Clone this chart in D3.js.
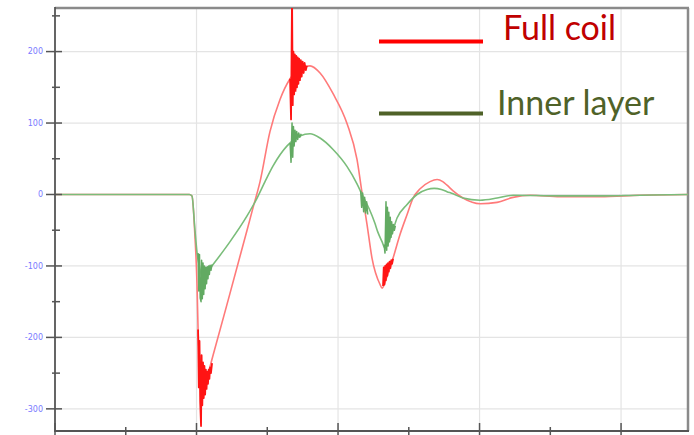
<!DOCTYPE html>
<html><head><meta charset="utf-8">
<script src="https://cdn.jsdelivr.net/npm/d3@7"></script>
<style>body{margin:0;background:#fff}svg{display:block}</style>
</head><body>
<svg id="c" width="694" height="435"></svg>
<script>
// ---- data (time units: 100 per major grid division) ----
const seriesNames = ["Full coil", "Inner layer"];
const fullCoil = [[0,0],[50,0],[95,0],[96.8,-2],[98.9,-59],[100.4,-129],[101.1,-189],[102.5,-235],[104.6,-268],[107,-258],[111.7,-225],[123.7,-138],[135.7,-50],[140,-18],[144.9,18],[151.9,88],[159,133],[166.1,162],[173.1,177],[180.2,180],[187.3,170],[196.5,141],[206.4,99],[213.4,49],[217,2],[220.5,-42],[224,-89],[229.7,-126],[231.1,-131],[234.6,-115],[238.9,-89],[243.8,-56],[248.8,-28],[253,-5],[258,8],[265,18],[270,21],[274,18],[277,13],[281.3,5],[288.3,-5],[300.4,-13],[312.4,-11],[323.7,-4],[335.7,-1],[356.9,-3],[385.2,-3],[413.4,-1],[447.3,0]];
const innerLayer = [[0,0],[50,0],[95,0],[96.8,-2],[98.9,-50],[100.4,-82],[102,-100],[104.6,-119],[107,-110],[111.7,-98],[123.7,-66],[135.7,-30],[142.8,-5],[148.4,18],[154.1,40],[164,68],[173.1,82],[180.2,85],[187.3,79],[196.5,63],[206.4,39],[213.4,15],[217.7,-3],[222,-20],[226,-40],[228,-52],[231.1,-66],[233.2,-75],[238,-55],[241.7,-33],[248.8,-14],[255.8,0],[262.9,7],[268,8.5],[273,7],[277,4],[281.3,1],[288.3,-5],[300.4,-8],[312.4,-5],[323.7,-1],[356.9,-2],[385.2,-2],[413.4,-1],[447.3,0]];
// oscillation bursts
const fullCoilBursts = [
  [[101.1,-189],[101.6,-270],[102.1,-205],[102.6,-290],[103.2,-324],[103.6,-225],[104.1,-295],[104.6,-235],[105.1,-285],[105.6,-240],[106.1,-280],[106.6,-245],[107.1,-272],[107.6,-248],[108.1,-265],[108.6,-245],[109.1,-258],[109.6,-242],[110.2,-250],[111,-236]],
  [[166.1,162],[166.8,105],[167.5,280],[168.0,125],[168.5,200],[169.0,140],[169.5,196],[170.0,145],[170.5,194],[171.0,150],[171.5,192],[172.0,155],[172.5,190],[173.1,160],[173.7,188],[174.3,165],[175,186],[175.7,170],[176.4,184],[177.2,174],[178,180]],
  [[231.8,-128],[232.3,-102],[232.8,-126],[233.3,-100],[233.8,-120],[234.3,-98],[234.8,-114],[235.3,-96],[235.8,-108],[236.4,-94],[237,-103],[237.6,-92],[238.2,-97],[238.9,-90]]
];
const innerLayerBursts = [
  [[101.1,-82],[101.6,-135],[102.1,-84],[102.6,-145],[103.2,-150],[103.6,-92],[104.1,-146],[104.6,-96],[105.1,-140],[105.6,-100],[106.1,-132],[106.6,-102],[107.1,-125],[107.6,-101],[108.1,-118],[108.6,-100],[109.1,-112],[109.6,-99],[110.2,-106],[111,-98]],
  [[166.1,72],[166.8,45],[167.5,100],[168.0,52],[168.5,95],[169.0,68],[169.6,90],[170.2,74],[170.8,88],[171.5,77],[172.2,86],[173,80],[174,85]],
  [[216,5],[216.7,-18],[217.4,2],[218.1,-24],[218.8,-4],[219.5,-26],[220.2,-10],[221,-28]],
  [[232.5,-70],[233.2,-82],[233.9,-10],[234.4,-78],[234.9,-18],[235.4,-72],[235.9,-25],[236.4,-66],[236.9,-32],[237.4,-60],[237.9,-38],[238.5,-55],[239.1,-42],[239.8,-50],[240.5,-44]]
];
const yMajorTicks = [-300,-200,-100,0,100,200];
const yMinorTicks = [-250,-150,-50,50,150,250];
const xMajorTicks = [0,100,200,300,400];
const xMinorTicks = [50,150,250,350];

// ---- layout ----
const svg = d3.select("#c");
const L = 55, R = 688, T = 8, B = 431;
const x = d3.scaleLinear().domain([0, 447.3]).range([L, R]);
const y = d3.scaleLinear().domain([-331, 261]).range([B, T]);

svg.append("defs").append("clipPath").attr("id","clip")
  .append("rect").attr("x",L).attr("y",T).attr("width",R-L).attr("height",B-T);

// grid
const g = svg.append("g");
g.selectAll(".hg").data(yMajorTicks).join("line")
  .attr("x1",L).attr("x2",R).attr("y1",d=>y(d)).attr("y2",d=>y(d))
  .attr("stroke","#e4e4e4").attr("stroke-width",1.2);
g.selectAll(".vg").data(xMajorTicks.slice(1)).join("line")
  .attr("x1",d=>x(d)).attr("x2",d=>x(d)).attr("y1",T).attr("y2",B)
  .attr("stroke","#e4e4e4").attr("stroke-width",1.2);

// frame
svg.append("line").attr("x1",L).attr("x2",R+1).attr("y1",T).attr("y2",T).attr("stroke","#8a8a8a").attr("stroke-width",2.5);
svg.append("line").attr("x1",R).attr("x2",R).attr("y1",T).attr("y2",B).attr("stroke","#8a8a8a").attr("stroke-width",2.5);

// series
const smooth = d3.line().x(d=>x(d[0])).y(d=>y(d[1])).curve(d3.curveMonotoneX);
const line = d3.line().x(d=>x(d[0])).y(d=>y(d[1]));
const plot = svg.append("g").attr("clip-path","url(#clip)");
plot.append("path").datum(fullCoil).attr("d",smooth).attr("fill","none")
  .attr("stroke","#ff7a7a").attr("stroke-width",1.6).attr("stroke-linejoin","round");
plot.selectAll(".fb").data(fullCoilBursts).join("path").attr("d",line).attr("fill","none")
  .attr("stroke","#ff1414").attr("stroke-width",1.8).attr("stroke-linejoin","round");
plot.append("path").datum(innerLayer).attr("d",smooth).attr("fill","none")
  .attr("stroke","#7abd7a").attr("stroke-width",1.6).attr("stroke-linejoin","round");
plot.selectAll(".gb").data(innerLayerBursts).join("path").attr("d",line).attr("fill","none")
  .attr("stroke","#62aa62").attr("stroke-width",1.5).attr("stroke-linejoin","round");

// axes
const ax = svg.append("g");
ax.append("line").attr("x1",L).attr("x2",L).attr("y1",T-1).attr("y2",B+1).attr("stroke","#555").attr("stroke-width",1.8);
ax.append("line").attr("x1",L).attr("x2",R+1).attr("y1",B).attr("y2",B).attr("stroke","#555").attr("stroke-width",1.8);
ax.selectAll(".ymj").data(yMajorTicks).join("line")
  .attr("x1",L-9).attr("x2",L+7).attr("y1",d=>y(d)).attr("y2",d=>y(d)).attr("stroke","#555").attr("stroke-width",1.5);
ax.selectAll(".ymn").data(yMinorTicks).join("line")
  .attr("x1",L-3).attr("x2",L+5).attr("y1",d=>y(d)).attr("y2",d=>y(d)).attr("stroke","#555").attr("stroke-width",1.5);
ax.selectAll(".xmj").data(xMajorTicks).join("line")
  .attr("x1",d=>x(d)).attr("x2",d=>x(d)).attr("y1",B-8).attr("y2",B+5).attr("stroke","#555").attr("stroke-width",1.5);
ax.selectAll(".xmn").data(xMinorTicks).join("line")
  .attr("x1",d=>x(d)).attr("x2",d=>x(d)).attr("y1",B-4).attr("y2",B+4).attr("stroke","#555").attr("stroke-width",1.5);
ax.selectAll(".yl").data(yMajorTicks).join("text")
  .attr("x",L-12).attr("y",d=>y(d)).attr("dy","0.35em").attr("text-anchor","end")
  .attr("font-family","DejaVu Sans, sans-serif").attr("font-size",8).attr("fill","#7a7aff")
  .text(d=>d);

// legend
const leg = svg.append("g");
const legColors = ["#ff0000","#4f6228"];
const legText = ["#c00000","#4f6228"];
const legY = [41.5, 113.5];
const legTX = [503, 497];
const legTY = [40, 115];
seriesNames.forEach((n,i)=>{
  leg.append("line").attr("x1",379).attr("x2",483).attr("y1",legY[i]).attr("y2",legY[i])
    .attr("stroke",legColors[i]).attr("stroke-width",4);
  leg.append("text").attr("x",legTX[i]).attr("y",legTY[i]).attr("font-family","Lato, sans-serif")
    .attr("font-size",34).attr("fill",legText[i]).text(n);
});
</script>
</body></html>
